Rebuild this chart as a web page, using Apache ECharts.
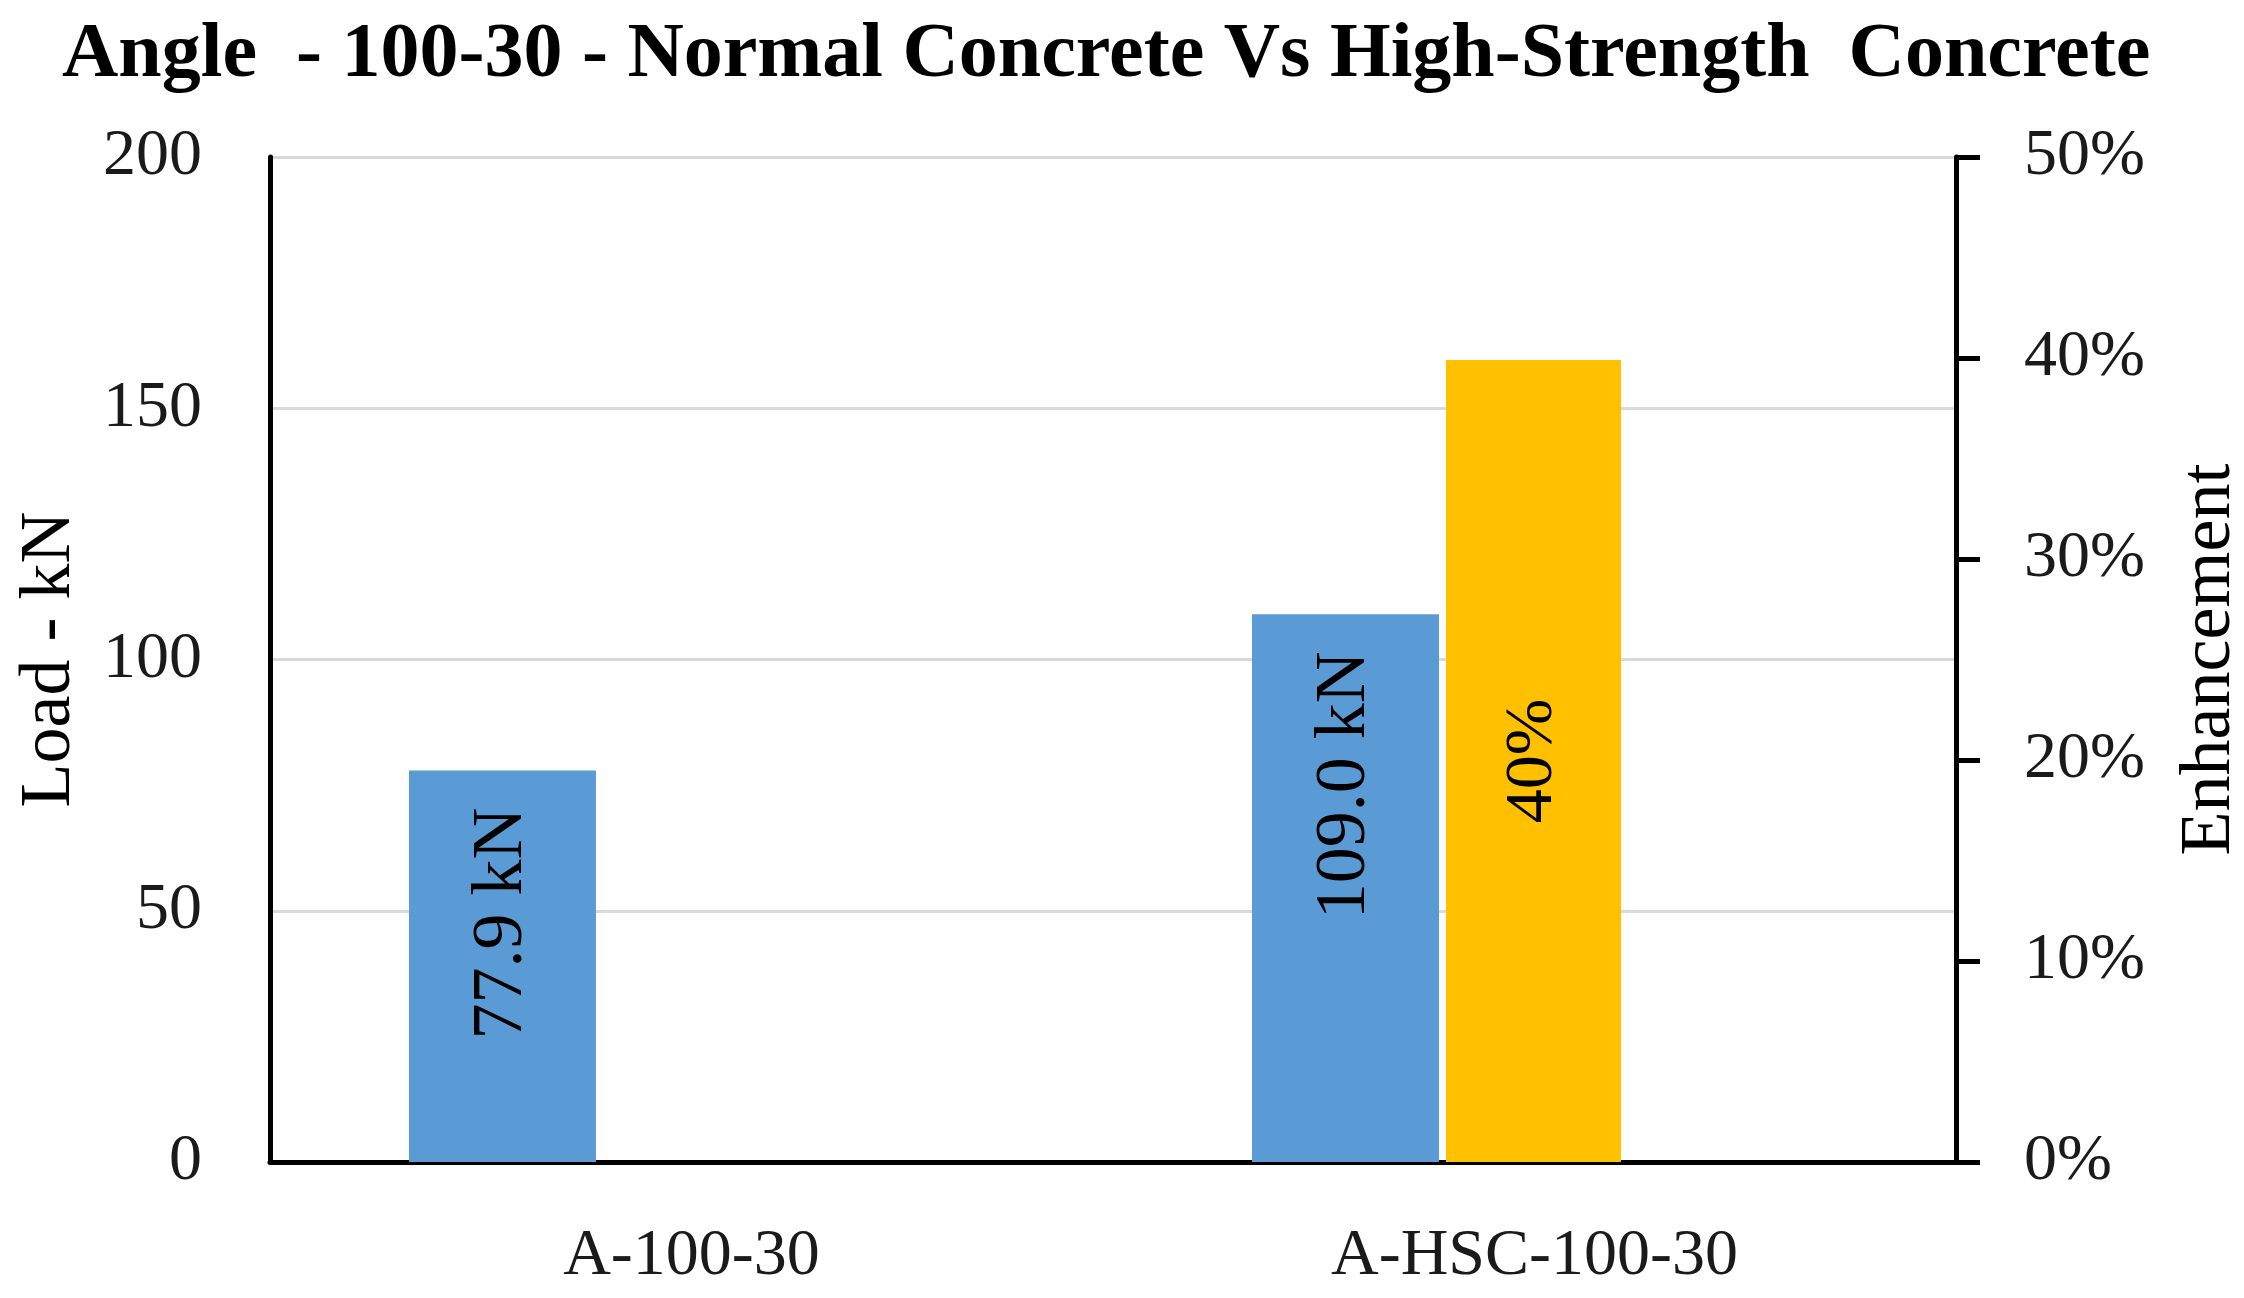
<!DOCTYPE html>
<html>
<head>
<meta charset="utf-8">
<script src="https://cdn.jsdelivr.net/npm/echarts@6/dist/echarts.min.js"></script>
<style>
html,body{margin:0;padding:0;background:#fff;overflow:hidden;}
#chart{width:2244px;height:1298px;}
</style>
</head>
<body>
<div id="chart"></div>
<script>
var titleText = 'Angle  - 100-30 - Normal Concrete Vs High-Strength  Concrete';
var categories = ['A-100-30', 'A-HSC-100-30'];
var loadValues = [77.9, 109.0];
var enhancementValues = [null, 0.399];
var spacerValues = [null, null];
var loadTicks = [0, 50, 100, 150, 200];
var enhancementTicks = [0, 0.1, 0.2, 0.3, 0.4, 0.5];

var FONT = 'Liberation Serif';
var chart = echarts.init(document.getElementById('chart'), null, {renderer: 'canvas'});

chart.setOption({
  backgroundColor: '#ffffff',
  animation: false,
  title: {
    text: titleText,
    left: 62,
    top: 17,
    padding: 0,
    textStyle: {fontFamily: FONT, fontWeight: 'bold', fontSize: 78, color: '#000000'}
  },
  grid: {left: 270, right: 288, top: 157, bottom: 136, containLabel: false, outerBoundsMode: 'none'},
  xAxis: {
    type: 'category',
    data: categories,
    axisLine: {show: true, lineStyle: {color: '#000000', width: 5}},
    axisTick: {show: false},
    axisLabel: {fontFamily: FONT, fontSize: 66, color: '#1a1a1a', margin: 62},
    splitLine: {show: false}
  },
  yAxis: [
    {
      type: 'value',
      min: loadTicks[0],
      max: loadTicks[loadTicks.length - 1],
      interval: loadTicks[1] - loadTicks[0],
      name: 'Load - kN',
      nameLocation: 'middle',
      nameGap: 184,
      nameTextStyle: {fontFamily: FONT, fontSize: 72, color: '#000000'},
      axisLine: {show: true, lineStyle: {color: '#000000', width: 5}},
      axisTick: {show: false},
      axisLabel: {fontFamily: FONT, fontSize: 66, color: '#1a1a1a', margin: 68},
      splitLine: {show: true, lineStyle: {color: '#d9d9d9', width: 3}}
    },
    {
      type: 'value',
      position: 'right',
      min: enhancementTicks[0],
      max: enhancementTicks[enhancementTicks.length - 1],
      interval: 0.1,
      name: 'Enhancement',
      nameLocation: 'middle',
      nameGap: 218,
      nameTextStyle: {fontFamily: FONT, fontSize: 72, color: '#000000'},
      axisLine: {show: true, lineStyle: {color: '#000000', width: 5}},
      axisTick: {show: true, inside: false, length: 24, lineStyle: {color: '#000000', width: 5}},
      axisLabel: {
        fontFamily: FONT, fontSize: 66, color: '#1a1a1a', margin: 68,
        formatter: function (v) { return Math.round(v * 100) + '%'; }
      },
      splitLine: {show: false}
    }
  ],
  series: [
    {
      name: 'Load',
      type: 'bar',
      yAxisIndex: 0,
      data: loadValues,
      barWidth: 187,
      barGap: '3.74%',
      itemStyle: {color: '#5b9bd5'},
      label: {
        show: true,
        position: 'insideTop',
        distance: 37,
        rotate: 90,
        align: 'right',
        verticalAlign: 'middle',
        fontFamily: FONT,
        fontSize: 72,
        color: '#000000',
        formatter: function (p) { return p.value.toFixed(1) + ' kN'; }
      }
    },
    {
      name: 'Enhancement',
      type: 'bar',
      yAxisIndex: 1,
      data: enhancementValues,
      barWidth: 175,
      barGap: '3.74%',
      itemStyle: {color: '#ffc000'},
      label: {
        show: true,
        position: 'inside',
        rotate: 90,
        align: 'center',
        verticalAlign: 'middle',
        fontFamily: FONT,
        fontSize: 68,
        color: '#000000',
        formatter: function (p) { return Math.round(p.value * 100) + '%'; }
      }
    },
    {
      name: 'spacer',
      type: 'bar',
      yAxisIndex: 1,
      data: spacerValues,
      barWidth: 189.5,
      barGap: '3.74%',
      silent: true,
      itemStyle: {color: 'rgba(0,0,0,0)'},
      label: {show: false}
    }
  ]
});
</script>
</body>
</html>
